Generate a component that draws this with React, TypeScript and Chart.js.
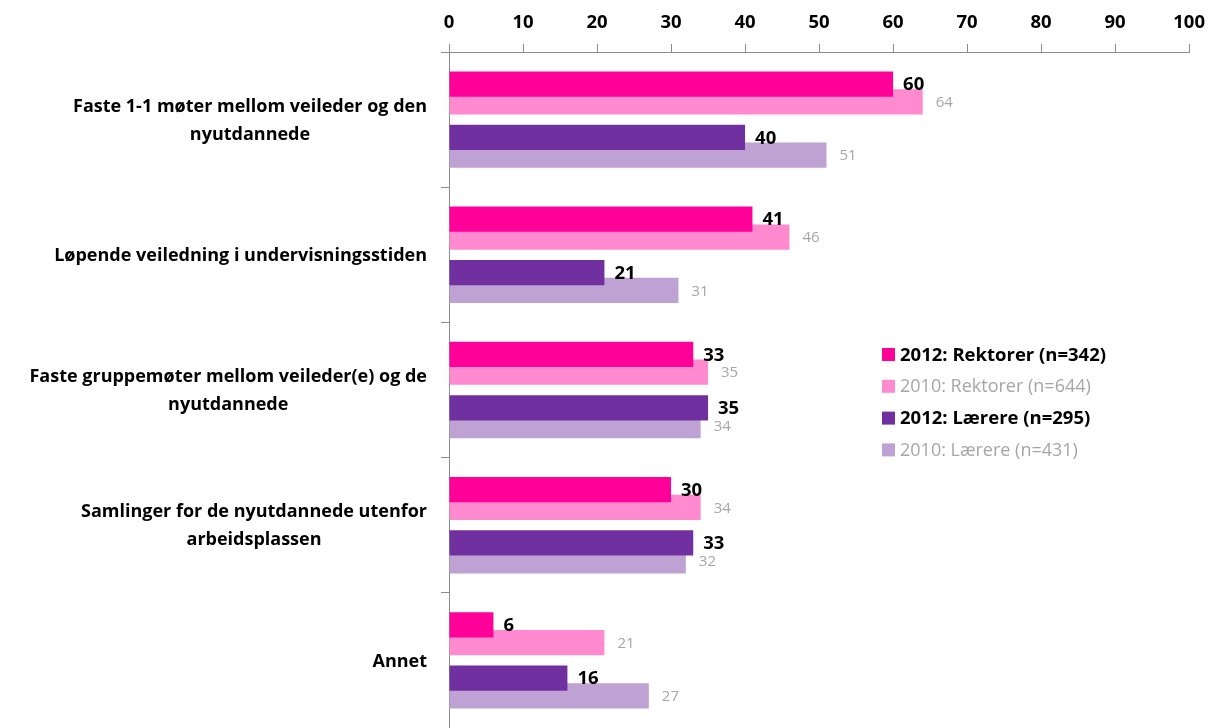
import { useEffect, useRef } from "react";
import { Chart, registerables } from "chart.js";

Chart.register(...registerables);

const categories: string[][] = [
  ["Faste 1-1 møter mellom veileder og den", "nyutdannede"],
  ["Løpende veiledning i undervisningsstiden"],
  ["Faste gruppemøter mellom veileder(e) og de", "nyutdannede"],
  ["Samlinger for de nyutdannede utenfor", "arbeidsplassen"],
  ["Annet"],
];

const seriesNames = [
  "2012: Rektorer (n=342)",
  "2010: Rektorer (n=644)",
  "2012: Lærere (n=295)",
  "2010: Lærere (n=431)",
];
const rektorer2012 = [60, 41, 33, 30, 6];
const rektorer2010 = [64, 46, 35, 34, 21];
const laerere2012 = [40, 21, 35, 33, 16];
const laerere2010 = [51, 31, 34, 32, 27];

const seriesColors = ["#FF0099", "#FF8AD0", "#7030A0", "#BEA2D3"];
const seriesBold = [true, false, true, false];

const FONT = '"Open Sans", "DejaVu Sans", sans-serif';
const GRAY_TEXT = "#A6A6A6";
const AXIS_GRAY = "#8C8C8C";

export default function App() {
  const ref = useRef<HTMLCanvasElement | null>(null);

  useEffect(() => {
    if (!ref.current) return;
    const seriesValues = [rektorer2012, rektorer2010, laerere2012, laerere2010];
    // dataset order: R2012, R2010, spacer, L2012, L2010
    const mk = (k: number) => ({
      label: seriesNames[k],
      data: seriesValues[k],
      backgroundColor: seriesColors[k],
      borderWidth: 0,
      barPercentage: 1.42,
      categoryPercentage: 0.658,
    });
    const spacer = {
      label: "",
      data: categories.map(() => null),
      backgroundColor: "rgba(0,0,0,0)",
      borderWidth: 0,
      barPercentage: 1.42,
      categoryPercentage: 0.658,
    };
    const dsToSeries = [0, 1, -1, 2, 3];

    const customPlugin = {
      id: "customDraw",
      afterDatasetsDraw(chart: any) {
        const ctx = chart.ctx as CanvasRenderingContext2D;
        ctx.save();
        ctx.textBaseline = "middle";
        ctx.textAlign = "left";
        chart.data.datasets.forEach((ds: any, di: number) => {
          const k = dsToSeries[di];
          if (k < 0) return;
          const meta = chart.getDatasetMeta(di);
          const bold = seriesBold[k];
          ctx.font = bold ? `bold 18.5px ${FONT}` : `15px ${FONT}`;
          ctx.fillStyle = bold ? "#000000" : GRAY_TEXT;
          meta.data.forEach((el: any, i: number) => {
            const v = ds.data[i];
            if (v == null) return;
            ctx.fillText(String(v), el.x + (bold ? 10 : 13), el.y + 1);
          });
        });
        ctx.restore();
      },
      afterDraw(chart: any) {
        const ctx = chart.ctx as CanvasRenderingContext2D;
        const yScale = chart.scales.y;
        ctx.save();
        // category labels
        ctx.font = `bold 18px ${FONT}`;
        ctx.fillStyle = "#000000";
        ctx.textBaseline = "middle";
        ctx.textAlign = "center";
        const lineH = 28;
        const rightEdge = yScale.right - 22;
        categories.forEach((lines, i) => {
          const cy = yScale.getPixelForValue(i) + 1;
          const w = Math.max(...lines.map((l) => ctx.measureText(l).width));
          const cx = rightEdge - w / 2;
          const top = cy - ((lines.length - 1) * lineH) / 2;
          lines.forEach((l, j) => ctx.fillText(l, cx, top + j * lineH));
        });
        // legend
        const lx = 882;
        const ly0 = 354.5;
        const lstep = 31.8;
        ctx.textAlign = "left";
        seriesNames.forEach((name, k) => {
          const y = ly0 + k * lstep;
          ctx.fillStyle = seriesColors[k];
          ctx.fillRect(lx, y - 6.5, 13, 13);
          ctx.font = seriesBold[k] ? `bold 18.5px ${FONT}` : `18px ${FONT}`;
          ctx.fillStyle = seriesBold[k] ? "#000000" : GRAY_TEXT;
          ctx.fillText(name, lx + 18, y + 1);
        });
        ctx.restore();
      },
    };

    const chart = new Chart(ref.current, {
      type: "bar",
      data: {
        labels: categories.map((c) => c.join(" ")),
        datasets: [mk(0), mk(1), spacer, mk(2), mk(3)] as any,
      },
      options: {
        indexAxis: "y",
        responsive: false,
        animation: false,
        events: [],
        layout: { padding: { left: 0, top: 0, right: 25, bottom: -7 } },
        plugins: {
          legend: { display: false },
          tooltip: { enabled: false },
        },
        scales: {
          x: {
            type: "linear",
            position: "top",
            min: 0,
            max: 100,
            ticks: {
              stepSize: 10,
              color: "#000000",
              font: { family: FONT, size: 18.5, weight: "bold" },
              padding: 10,
            },
            grid: {
              drawOnChartArea: false,
              drawTicks: true,
              tickLength: 8,
              color: AXIS_GRAY,
            },
            border: { display: true, color: AXIS_GRAY },
            afterFit: (s: any) => {
              s.height = 52;
            },
          },
          y: {
            type: "category",
            ticks: { display: false },
            grid: {
              offset: true,
              drawOnChartArea: false,
              drawTicks: true,
              tickLength: 8,
              color: AXIS_GRAY,
            },
            border: { display: true, color: AXIS_GRAY },
            afterFit: (s: any) => {
              s.width = 449;
            },
          },
        },
      } as any,
      plugins: [customPlugin],
    });
    return () => chart.destroy();
  }, []);

  return (
    <div style={{ position: "fixed", left: 0, top: 0, width: 1215, height: 728, background: "#ffffff" }}>
      <canvas ref={ref} width={1215} height={728} style={{ display: "block" }} />
    </div>
  );
}
